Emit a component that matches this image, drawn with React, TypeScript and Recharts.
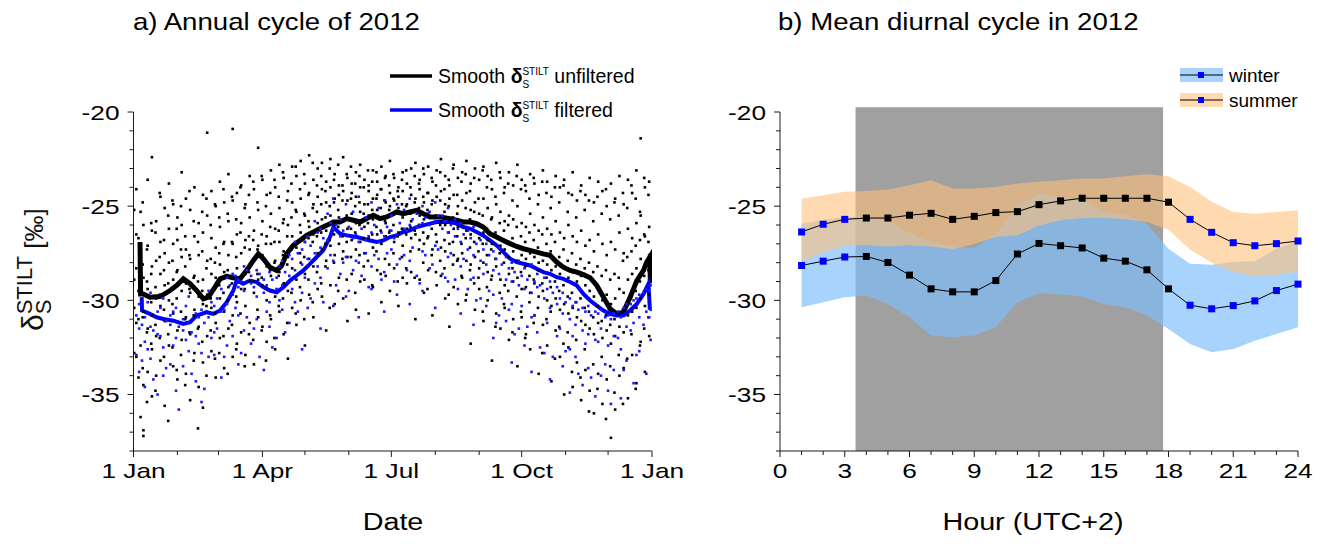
import React from 'react';
import { ComposedChart, Line, Scatter, Area, XAxis, YAxis, ReferenceArea } from 'recharts';

// ---------- Panel a) data ----------
const monthStartDays = [0, 31, 60, 91, 121, 152, 182, 213, 244, 274, 305, 335, 366];
const dateTickLabels: Record<number, string> = { 0: '1 Jan', 91: '1 Apr', 182: '1 Jul', 274: '1 Oct', 366: '1 Jan' };
const valueTicks = [-38, -37, -36, -35, -34, -33, -32, -31, -30, -29, -28, -27, -26, -25, -24, -23, -22, -21, -20];
const hourTicks = [0, 1, 2, 3, 4, 5, 6, 7, 8, 9, 10, 11, 12, 13, 14, 15, 16, 17, 18, 19, 20, 21, 22, 23, 24];

// unfiltered hourly values: [day, values...]
const unfilteredDots: number[][] = [
  [2, -24.1, -26.5, -28.3, -31.2, -33.0], [5, -25.3, -27.4, -29.0, -32.4, -36.2], [7, -26.0, -28.8, -30.6, -34.5, -37.2, -36.9],
  [10, -23.6, -27.1, -29.4, -31.5, -33.8], [13, -22.4, -26.3, -28.2, -30.8, -32.6, -35.1], [16, -25.8, -27.9, -29.9, -31.9, -34.0],
  [19, -24.5, -26.9, -28.6, -30.3, -33.2], [22, -25.1, -27.5, -29.2, -31.1, -35.6], [25, -23.8, -26.2, -28.0, -30.0, -32.4],
  [28, -24.9, -27.0, -28.9, -30.7, -33.5], [31, -25.6, -26.8, -28.4, -31.6, -34.2], [34, -23.2, -26.0, -27.7, -29.5, -32.1],
  [37, -24.6, -27.3, -29.1, -30.9, -33.9], [40, -25.2, -27.8, -29.6, -31.8, -35.3], [43, -24.0, -26.6, -28.7, -30.5, -32.8],
  [46, -25.9, -27.6, -29.8, -31.4, -34.6], [49, -24.4, -26.4, -28.9, -30.2, -33.3, -35.7], [52, -21.1, -25.5, -27.9, -29.7, -31.9],
  [55, -24.2, -26.7, -28.6, -30.4, -32.7], [58, -25.0, -27.2, -28.8, -31.2, -34.1], [61, -23.7, -26.1, -28.1, -29.9, -32.0],
  [64, -24.8, -26.9, -28.5, -30.6, -33.6], [67, -23.3, -25.8, -27.6, -29.3, -31.5], [70, -20.9, -24.7, -27.0, -28.8, -30.8, -33.0],
  [73, -24.3, -26.5, -28.3, -30.1, -32.3], [76, -23.9, -25.9, -27.5, -29.4, -31.7], [79, -24.9, -26.8, -28.6, -30.3, -32.9],
  [82, -23.4, -25.6, -27.3, -29.0, -31.2], [85, -24.1, -26.3, -27.8, -29.6, -33.4], [88, -21.9, -25.2, -27.1, -28.9, -30.9],
  [91, -23.6, -25.8, -27.6, -29.2, -31.4], [94, -24.4, -26.6, -28.2, -30.0, -32.2], [97, -23.1, -25.4, -27.0, -28.7, -31.0],
  [100, -24.0, -26.2, -27.9, -29.8, -32.6], [103, -22.8, -25.1, -26.9, -28.5, -30.6], [106, -23.5, -25.7, -27.4, -29.1, -31.8],
  [109, -24.2, -26.0, -27.7, -29.5, -33.1], [112, -22.9, -24.8, -26.6, -28.3, -30.4], [115, -23.4, -25.3, -27.2, -28.9, -31.3],
  [118, -22.6, -24.6, -26.4, -28.0, -30.0], [121, -23.8, -25.5, -26.9, -28.6, -32.4], [124, -22.3, -24.3, -26.1, -27.8, -29.7],
  [127, -23.6, -24.9, -26.5, -28.2, -30.9], [130, -23.0, -24.5, -25.9, -27.5, -29.4], [133, -22.7, -24.1, -25.7, -27.3, -29.8],
  [136, -23.7, -24.8, -26.3, -27.9, -31.6], [139, -22.5, -24.0, -25.5, -27.1, -29.2], [142, -23.3, -24.6, -26.0, -27.6, -30.2],
  [145, -23.9, -24.4, -25.6, -27.0, -28.8], [148, -22.4, -24.2, -25.8, -27.4, -29.9], [151, -23.5, -24.7, -26.2, -27.7, -31.1],
  [154, -23.8, -24.3, -25.4, -26.8, -28.6], [157, -23.2, -24.5, -25.9, -27.3, -30.5], [160, -22.8, -24.0, -25.3, -26.9, -29.0],
  [163, -23.6, -24.9, -26.1, -27.5, -28.9], [166, -23.9, -24.2, -25.5, -26.7, -30.7], [169, -23.1, -24.6, -25.7, -27.2, -29.3],
  [172, -23.7, -24.4, -25.2, -26.5, -28.4], [175, -22.9, -24.1, -25.6, -27.0, -30.1], [178, -23.4, -24.8, -25.9, -26.6, -28.7],
  [181, -22.6, -24.3, -25.0, -26.3, -29.5], [184, -23.5, -24.7, -25.4, -26.9, -28.3], [187, -24.0, -24.5, -25.1, -26.4, -30.3],
  [190, -23.2, -24.2, -25.6, -27.1, -28.8], [193, -23.8, -24.9, -25.3, -26.2, -29.1], [196, -23.0, -24.4, -25.8, -26.7, -28.5],
  [199, -22.7, -24.6, -25.2, -26.5, -31.0], [202, -23.6, -24.1, -25.5, -26.8, -28.9], [205, -23.3, -24.8, -25.7, -27.0, -29.6],
  [208, -22.9, -24.3, -25.4, -26.6, -28.4], [211, -23.7, -24.7, -25.9, -27.3, -30.8], [214, -23.1, -24.5, -25.6, -26.9, -29.2],
  [217, -22.5, -24.2, -25.8, -27.2, -28.7], [220, -23.4, -24.9, -26.0, -27.4, -29.9], [223, -23.9, -24.6, -25.7, -27.0, -31.4],
  [226, -22.8, -24.4, -26.2, -27.6, -29.3], [229, -23.5, -25.0, -26.1, -27.8, -30.2], [232, -23.2, -24.7, -25.9, -27.5, -28.8],
  [235, -22.6, -24.3, -26.3, -27.9, -29.7], [238, -23.8, -25.2, -26.5, -28.1, -32.3], [241, -23.0, -24.8, -26.0, -27.7, -30.5],
  [244, -23.6, -25.4, -26.7, -28.3, -29.4], [247, -22.9, -24.6, -26.4, -28.0, -31.1], [250, -23.4, -25.1, -26.8, -28.5, -30.0],
  [253, -24.1, -25.6, -27.0, -28.7, -33.2], [256, -22.7, -24.9, -26.6, -28.2, -30.7], [259, -23.5, -25.3, -27.1, -28.9, -31.5],
  [262, -24.0, -25.8, -27.3, -29.2, -30.4], [265, -23.2, -25.5, -26.9, -28.6, -32.1], [268, -23.9, -25.7, -27.4, -29.0, -31.0],
  [271, -22.8, -25.0, -27.2, -28.8, -33.5], [274, -23.6, -25.9, -27.6, -29.4, -30.9], [277, -24.2, -26.1, -27.8, -29.3, -31.8],
  [280, -23.3, -25.4, -27.5, -29.6, -32.6], [283, -23.8, -26.0, -27.7, -29.1, -30.8], [286, -24.4, -26.3, -28.0, -29.8, -33.9],
  [289, -23.1, -25.6, -27.9, -29.5, -31.3], [292, -23.7, -26.2, -28.1, -30.0, -32.4], [295, -24.5, -26.5, -28.4, -30.3, -34.3],
  [298, -23.4, -25.8, -28.2, -29.9, -31.6], [301, -24.0, -26.4, -28.6, -30.5, -33.0], [304, -23.6, -26.7, -28.3, -30.2, -35.0],
  [307, -24.3, -26.0, -28.8, -30.7, -32.5], [310, -23.2, -26.6, -28.5, -30.4, -34.6], [313, -24.7, -26.9, -29.0, -30.9, -33.3],
  [316, -23.9, -26.3, -28.7, -31.1, -35.3], [319, -24.4, -27.1, -29.2, -31.3, -33.7], [322, -23.5, -26.8, -29.5, -31.5, -34.8],
  [325, -24.8, -27.4, -29.8, -31.8, -36.0], [328, -23.7, -26.5, -29.3, -31.2, -33.9], [331, -24.2, -27.0, -30.0, -32.0, -35.5],
  [334, -25.0, -27.6, -29.7, -31.6, -34.2], [337, -23.8, -26.9, -30.2, -32.3, -37.3], [340, -24.6, -27.3, -29.9, -31.9, -35.8],
  [343, -23.4, -26.4, -29.4, -31.4, -34.0], [346, -24.9, -27.5, -29.6, -31.7, -33.6], [349, -23.6, -26.2, -28.9, -30.8, -35.2],
  [352, -24.3, -26.7, -28.6, -30.6, -32.9], [355, -23.1, -25.9, -28.3, -30.4, -34.4], [358, -21.4, -25.5, -27.8, -29.9, -32.2],
  [361, -24.0, -26.6, -28.1, -30.3, -33.8], [364, -23.7, -26.1, -27.6, -29.7, -31.9],
  [0.5, -25.2, -28.9, -30.4, -32.8], [3.5, -26.7, -29.5, -31.0, -34.1], [6.5, -24.8, -28.1, -30.9, -33.6], [9.5, -27.3, -29.0, -31.7, -35.4],
  [12.5, -25.9, -28.6, -30.1, -32.3], [15.5, -26.4, -29.3, -31.3, -34.8], [18.5, -24.3, -27.7, -29.7, -32.0], [21.5, -26.8, -28.4, -30.5, -33.0],
  [24.5, -25.5, -29.1, -31.8, -36.4], [27.5, -24.7, -27.9, -30.2, -32.5], [30.5, -26.2, -28.5, -29.9, -33.7], [33.5, -25.0, -27.3, -30.6, -32.9],
  [36.5, -26.6, -28.2, -31.0, -34.5], [39.5, -24.2, -27.6, -29.4, -31.7], [42.5, -25.8, -28.8, -30.8, -33.2], [45.5, -26.9, -29.0, -31.5, -36.8],
  [48.5, -25.3, -27.4, -29.5, -32.2], [51.5, -24.6, -28.3, -30.3, -34.0], [54.5, -26.0, -27.8, -29.9, -31.6], [57.5, -24.9, -28.0, -30.7, -33.1],
  [60.5, -25.6, -27.5, -29.2, -32.8], [63.5, -24.1, -27.0, -29.6, -31.9], [66.5, -25.4, -28.4, -30.0, -33.9], [69.5, -24.5, -26.9, -29.1, -31.3],
  [72.5, -25.7, -27.7, -29.8, -32.6], [75.5, -24.0, -26.4, -28.9, -30.7], [78.5, -25.1, -27.2, -29.4, -33.5], [81.5, -24.4, -26.6, -28.5, -31.8],
  [84.5, -23.7, -26.8, -29.0, -32.1], [87.5, -24.8, -27.3, -28.6, -30.5], [90.5, -23.4, -26.5, -28.8, -31.6], [93.5, -25.0, -27.0, -29.3, -33.2],
  [96.5, -24.3, -26.1, -28.4, -30.8], [99.5, -23.6, -26.9, -28.0, -32.0], [102.5, -24.5, -26.3, -28.7, -30.3], [105.5, -23.2, -25.9, -27.6, -29.9],
  [108.5, -24.7, -26.6, -28.1, -31.2], [111.5, -23.8, -25.6, -27.3, -29.6], [114.5, -22.9, -25.2, -27.0, -30.7], [117.5, -24.1, -26.0, -27.5, -29.3],
  [120.5, -23.3, -25.4, -27.7, -31.0], [123.5, -24.4, -25.8, -26.7, -28.9], [126.5, -22.7, -25.1, -26.9, -30.1], [129.5, -23.9, -25.3, -26.6, -28.5],
  [132.5, -23.4, -24.9, -26.4, -29.1], [135.5, -24.2, -25.6, -27.0, -28.2], [138.5, -23.0, -25.0, -26.8, -30.4], [141.5, -23.6, -24.8, -26.5, -28.0],
  [144.5, -22.8, -25.2, -26.1, -29.5], [147.5, -23.9, -24.7, -26.6, -27.8], [150.5, -23.3, -25.5, -26.9, -28.9], [153.5, -22.9, -24.6, -26.2, -27.7],
  [156.5, -23.8, -25.0, -26.4, -29.6], [159.5, -23.4, -24.8, -26.0, -27.6], [162.5, -24.0, -25.4, -26.7, -28.2], [165.5, -23.1, -24.9, -25.9, -27.9],
  [168.5, -23.7, -25.2, -26.5, -29.2], [171.5, -23.2, -24.6, -26.1, -27.4], [174.5, -24.1, -25.1, -26.3, -28.6], [177.5, -23.5, -24.7, -25.8, -27.8],
  [180.5, -23.9, -25.2, -26.4, -28.1], [183.5, -23.3, -24.6, -26.0, -27.5], [186.5, -24.2, -25.3, -26.6, -29.0], [189.5, -23.6, -24.9, -26.2, -27.7],
  [192.5, -23.1, -25.0, -26.5, -28.3], [195.5, -24.0, -25.4, -26.1, -27.4], [198.5, -23.4, -24.8, -26.3, -28.8], [201.5, -23.8, -25.1, -26.0, -27.3],
  [204.5, -23.0, -24.5, -26.4, -28.0], [207.5, -24.3, -25.2, -26.7, -29.4], [210.5, -23.5, -24.9, -26.2, -27.6], [213.5, -23.9, -25.5, -26.5, -28.5],
  [216.5, -23.2, -24.7, -26.0, -27.9], [219.5, -24.1, -25.3, -26.8, -28.3], [222.5, -23.6, -25.0, -26.4, -29.7], [225.5, -23.0, -25.6, -26.9, -28.1],
  [228.5, -24.4, -25.4, -26.6, -27.9], [231.5, -23.7, -25.8, -27.0, -28.7], [234.5, -23.3, -25.1, -26.7, -30.0], [237.5, -24.2, -25.7, -27.2, -28.4],
  [240.5, -23.5, -25.3, -26.9, -29.1], [243.5, -24.6, -26.0, -27.4, -28.8], [246.5, -23.1, -25.5, -27.0, -30.6], [249.5, -24.0, -26.2, -27.6, -29.3],
  [252.5, -23.6, -25.7, -27.3, -28.9], [255.5, -24.5, -26.4, -27.8, -31.4], [258.5, -23.2, -25.9, -27.5, -29.6], [261.5, -24.3, -26.3, -28.0, -30.2],
  [264.5, -23.8, -26.0, -27.7, -29.5], [267.5, -24.7, -26.7, -28.3, -31.7], [270.5, -23.4, -26.1, -27.9, -29.8], [273.5, -24.1, -26.6, -28.5, -30.6],
  [276.5, -23.9, -26.9, -28.2, -32.0], [279.5, -24.6, -26.4, -28.7, -30.1], [282.5, -23.5, -26.8, -28.9, -31.2], [285.5, -24.9, -27.2, -28.4, -30.4],
  [288.5, -23.7, -26.5, -29.1, -32.8], [291.5, -24.3, -27.0, -28.8, -31.0], [294.5, -25.1, -27.4, -29.3, -30.6], [297.5, -24.0, -26.9, -29.0, -33.1],
  [300.5, -24.8, -27.7, -29.5, -31.4], [303.5, -23.9, -27.3, -29.2, -32.3], [306.5, -25.3, -27.9, -29.8, -31.7], [309.5, -24.4, -27.5, -29.6, -33.8],
  [312.5, -25.6, -28.1, -30.1, -32.1], [315.5, -24.2, -27.8, -29.9, -34.1], [318.5, -25.2, -28.3, -30.4, -32.6], [321.5, -24.7, -28.0, -30.6, -35.9],
  [324.5, -25.8, -28.5, -30.9, -33.4], [327.5, -24.5, -28.2, -30.3, -34.7], [330.5, -25.4, -28.7, -31.1, -33.0], [333.5, -24.1, -28.4, -30.8, -36.3],
  [336.5, -25.7, -28.9, -31.3, -33.5], [339.5, -24.8, -28.6, -31.0, -34.9], [342.5, -25.5, -28.8, -30.7, -32.9], [345.5, -24.3, -27.9, -30.5, -35.5],
  [348.5, -25.1, -27.7, -30.2, -33.1], [351.5, -23.9, -27.4, -29.8, -31.8], [354.5, -24.6, -27.1, -29.5, -34.7], [357.5, -25.3, -26.8, -29.0, -32.4],
  [360.5, -23.5, -26.5, -28.7, -31.5], [363.5, -24.4, -26.9, -28.4, -30.9],
];

// filtered hourly values: [day, values...]
const filteredDots: number[][] = [
  [4, -30.2, -31.5, -33.8], [8, -30.9, -32.2, -34.6], [12, -29.6, -31.4, -33.1], [17, -30.6, -31.8, -35.0],
  [21, -29.9, -32.5, -34.0], [26, -30.8, -31.3, -33.4], [30, -30.4, -32.0, -34.8], [35, -31.0, -31.6, -33.5],
  [39, -29.8, -31.2, -32.7], [44, -30.7, -31.9, -34.3], [48, -30.5, -32.8, -35.4], [53, -29.5, -30.9, -33.0],
  [57, -30.3, -31.7, -32.9], [62, -29.4, -30.6, -34.1], [66, -28.8, -30.2, -32.4], [70, -28.6, -29.7, -31.9],
  [74, -28.9, -29.3, -30.8, -33.4], [78, -28.2, -29.5, -31.6], [83, -28.7, -29.1, -32.3], [87, -28.4, -29.8, -31.0],
  [92, -28.9, -29.6, -33.7], [96, -28.5, -30.1, -31.4], [101, -28.8, -29.4, -32.0], [105, -27.9, -29.2, -30.5],
  [110, -27.6, -28.7, -31.2], [114, -26.9, -28.4, -30.1], [119, -27.3, -28.1, -29.6, -32.6], [123, -26.6, -27.8, -30.4],
  [128, -25.8, -27.5, -29.1], [132, -26.2, -27.2, -28.8, -31.5], [137, -25.4, -26.8, -28.3], [141, -24.6, -26.2, -27.9, -30.3],
  [146, -25.7, -26.6, -28.6], [150, -24.9, -26.5, -27.7, -29.8], [155, -25.3, -26.7, -28.4], [159, -24.5, -26.9, -28.0, -30.9],
  [164, -25.6, -26.8, -27.5], [168, -24.8, -26.4, -28.2, -29.4], [173, -25.1, -26.9, -27.8], [177, -24.7, -26.6, -28.5, -30.6],
  [182, -25.5, -26.3, -27.3], [186, -24.9, -26.5, -28.1, -29.7], [191, -25.2, -26.2, -27.6], [195, -24.6, -26.0, -27.9, -30.2],
  [200, -25.4, -26.1, -28.7], [204, -25.0, -25.9, -27.4, -29.5], [209, -25.3, -26.0, -28.3], [213, -24.8, -25.8, -27.1, -30.4],
  [218, -25.5, -26.2, -28.6], [222, -25.1, -26.4, -27.7, -29.0], [227, -25.7, -26.6, -28.9], [231, -25.9, -26.9, -28.2, -30.7],
  [236, -26.3, -27.3, -29.4], [240, -26.1, -27.6, -28.8, -31.3], [245, -26.8, -27.9, -29.9], [249, -27.0, -28.1, -30.3],
  [254, -27.4, -28.4, -29.7, -32.0], [258, -27.2, -28.6, -30.8], [263, -27.7, -28.9, -31.1], [267, -28.0, -29.0, -30.2, -33.3],
  [272, -27.9, -29.2, -31.5], [276, -28.3, -29.4, -32.4], [281, -28.1, -29.6, -30.9, -33.8], [285, -28.6, -29.3, -31.7],
  [290, -28.8, -29.9, -32.8], [294, -29.0, -30.4, -34.2], [299, -29.3, -30.2, -31.9], [303, -29.6, -30.7, -33.5],
  [308, -29.9, -31.0, -32.6, -34.9], [312, -30.1, -31.3, -33.0], [317, -30.4, -31.6, -34.5], [321, -30.3, -31.8, -33.6],
  [326, -30.6, -32.1, -35.1], [330, -30.5, -31.5, -34.0], [335, -30.8, -32.4, -34.8], [339, -30.7, -31.9, -33.7],
  [344, -30.9, -32.6, -35.2], [348, -30.2, -31.4, -33.2], [353, -30.0, -31.2, -34.4], [357, -29.7, -30.9, -32.7],
  [362, -29.4, -30.6, -33.9], [365, -29.2, -30.5, -32.1],
  [2, -30.8, -32.9], [6, -31.3, -33.2], [10, -30.1, -32.6], [14, -31.6, -34.2], [19, -30.4, -31.9], [23, -31.1, -33.6],
  [28, -30.6, -32.4], [32, -31.4, -35.8], [37, -30.3, -32.1], [41, -31.7, -33.9], [46, -30.9, -32.3], [50, -31.2, -34.7],
  [55, -30.1, -32.0], [59, -29.9, -31.5], [64, -30.5, -33.0], [68, -29.2, -31.1], [72, -28.7, -30.4], [76, -29.0, -32.8],
  [80, -28.4, -30.9], [85, -29.3, -31.5], [89, -28.6, -33.0], [94, -29.2, -30.6], [98, -28.9, -32.5], [103, -28.2, -30.0],
  [107, -28.5, -31.7], [112, -27.8, -29.4], [116, -27.5, -30.6], [121, -26.9, -28.8], [125, -27.1, -29.9], [130, -26.4, -28.2],
  [134, -26.7, -30.1], [139, -25.9, -27.6], [143, -26.0, -29.2], [148, -26.3, -28.0], [152, -26.1, -29.5], [157, -26.5, -27.9],
  [161, -26.2, -28.7], [166, -26.6, -29.3], [170, -26.0, -27.6], [175, -26.4, -28.9], [179, -26.1, -27.5], [184, -26.7, -29.0],
  [188, -25.9, -27.8], [193, -26.3, -28.4], [197, -25.7, -27.2], [202, -26.0, -29.1], [206, -25.6, -27.6], [211, -25.9, -28.1],
  [215, -25.5, -27.3], [220, -25.8, -28.8], [224, -26.0, -27.5], [229, -26.2, -29.4], [233, -26.5, -27.8], [238, -26.7, -28.9],
  [242, -27.0, -30.0], [247, -27.3, -28.6], [251, -27.6, -29.5], [256, -27.8, -31.2], [260, -28.1, -29.9], [265, -28.3, -30.5],
  [269, -28.5, -31.8], [274, -28.7, -30.3], [278, -28.9, -31.4], [283, -29.0, -30.8], [287, -29.2, -32.5], [292, -29.4, -31.2],
  [296, -29.6, -33.0], [301, -29.9, -31.5], [305, -30.1, -32.7], [310, -30.3, -31.9], [314, -30.5, -33.9], [319, -30.6, -32.3],
  [323, -30.8, -34.1], [328, -30.7, -32.2], [333, -30.9, -33.4], [337, -31.0, -35.5], [342, -30.6, -32.0], [346, -30.4, -33.7],
  [351, -30.2, -31.6], [355, -29.9, -32.9], [360, -29.6, -31.3], [364, -29.5, -30.9],
];

// smoothed curves: [day, value]
const smoothUnfiltered: number[][] = [
  [4.6, -26.9], [5.0, -29.66], [6.9, -29.66], [11.6, -29.83], [18.7, -29.8], [25.8, -29.48], [30.5, -29.21], [35.2, -28.86],
  [39.9, -29.12], [44.6, -29.48], [49.3, -29.92], [52.8, -29.83], [57.5, -29.3], [61.1, -28.86], [65.8, -28.73], [70.5, -28.8],
  [75.2, -28.86], [79.9, -28.41], [84.6, -27.88], [88.1, -27.53], [91.6, -27.79], [96.3, -28.24], [101.1, -28.41], [104.6, -28.15],
  [108.1, -27.53], [112.8, -27.08], [117.5, -26.82], [122.2, -26.55], [127.0, -26.37], [131.7, -26.19], [136.4, -26.02],
  [141.1, -25.84], [145.8, -25.84], [150.5, -25.66], [155.2, -25.75], [159.9, -25.84], [164.6, -25.66], [169.3, -25.48],
  [174.0, -25.66], [178.7, -25.57], [183.4, -25.4], [185.7, -25.31], [190.4, -25.4], [195.2, -25.31], [199.9, -25.22],
  [204.6, -25.4], [209.3, -25.57], [216.3, -25.57], [223.4, -25.66], [228.1, -25.75], [232.8, -25.84], [237.5, -25.84],
  [242.2, -25.93], [246.9, -26.11], [251.6, -26.46], [256.3, -26.64], [261.1, -26.82], [265.8, -26.99], [270.5, -27.14],
  [275.2, -27.26], [279.9, -27.35], [284.6, -27.44], [289.3, -27.53], [294.0, -27.61], [298.7, -27.97], [303.4, -28.24],
  [308.2, -28.41], [312.9, -28.5], [317.6, -28.63], [322.3, -28.8], [327.0, -29.21], [331.7, -29.83], [336.4, -30.45],
  [341.1, -30.72], [345.8, -30.63], [350.6, -29.83], [355.3, -28.95], [360.0, -28.41], [362.3, -27.97], [364.5, -27.7], [364.8, -29.1],
];

const smoothFiltered: number[][] = [
  [5.8, -29.83], [6.0, -30.54], [11.6, -30.72], [16.3, -30.9], [21.1, -30.99], [28.1, -31.08], [35.2, -31.25], [39.9, -31.16],
  [44.6, -30.81], [51.7, -30.63], [56.4, -30.72], [61.1, -30.54], [65.8, -30.1], [70.5, -29.48], [72.8, -28.95], [77.5, -29.12],
  [82.2, -28.95], [86.9, -29.03], [91.6, -29.3], [96.3, -29.48], [101.1, -29.57], [105.8, -29.3], [110.5, -28.95], [115.2, -28.68],
  [119.9, -28.41], [124.6, -28.06], [129.3, -27.7], [134.0, -27.35], [138.7, -26.64], [141.1, -26.11], [145.8, -26.46],
  [150.5, -26.55], [157.6, -26.64], [162.3, -26.73], [167.0, -26.82], [171.7, -26.9], [176.4, -26.82], [181.1, -26.64],
  [185.7, -26.55], [190.4, -26.37], [195.2, -26.28], [199.9, -26.11], [204.6, -26.02], [209.3, -25.93], [214.0, -25.84],
  [218.7, -25.84], [223.4, -25.84], [228.1, -25.93], [232.8, -26.11], [237.5, -26.19], [242.2, -26.37], [246.9, -26.55],
  [251.6, -26.82], [256.3, -27.08], [261.1, -27.44], [265.8, -27.79], [270.5, -27.97], [275.2, -28.06], [279.9, -28.15],
  [284.6, -28.32], [289.3, -28.5], [294.0, -28.59], [298.7, -28.77], [303.4, -28.86], [308.2, -29.03], [312.9, -29.21],
  [317.6, -29.66], [322.3, -30.01], [327.0, -30.28], [331.7, -30.54], [336.4, -30.72], [341.1, -30.81], [345.8, -30.81],
  [350.6, -30.54], [355.3, -30.19], [360.0, -29.66], [363.5, -29.12], [364.5, -30.5],
];

// ---------- Panel b) data ----------
const hours = [1, 2, 3, 4, 5, 6, 7, 8, 9, 10, 11, 12, 13, 14, 15, 16, 17, 18, 19, 20, 21, 22, 23, 24];
const summerMean = [-26.37, -25.96, -25.70, -25.63, -25.63, -25.48, -25.38, -25.70, -25.54, -25.34, -25.29, -24.92, -24.72, -24.58, -24.58, -24.58, -24.58, -24.79, -25.70, -26.39, -26.94, -27.10, -26.99, -26.85];
const summerHigh = [-24.60, -24.42, -24.24, -24.19, -24.12, -23.89, -23.62, -24.06, -24.06, -23.98, -23.80, -23.71, -23.62, -23.53, -23.53, -23.41, -23.30, -23.41, -23.98, -24.77, -25.31, -25.40, -25.31, -25.22];
const summerLow = [-27.97, -27.44, -27.12, -27.06, -27.14, -27.08, -27.14, -27.28, -27.01, -26.64, -26.55, -26.02, -25.75, -25.63, -25.61, -25.70, -25.84, -26.25, -27.31, -28.00, -28.50, -28.73, -28.64, -28.47];
const winterMean = [-28.15, -27.92, -27.70, -27.67, -27.99, -28.66, -29.39, -29.55, -29.55, -28.95, -27.54, -26.98, -27.10, -27.22, -27.76, -27.92, -28.38, -29.39, -30.26, -30.45, -30.28, -30.03, -29.48, -29.14];
const winterHigh = [-25.93, -25.73, -25.57, -25.59, -25.79, -26.42, -26.90, -27.13, -27.22, -26.46, -24.99, -24.33, -24.51, -24.65, -25.32, -25.47, -25.95, -27.26, -28.06, -28.11, -27.97, -27.92, -27.26, -26.85];
const winterLow = [-30.37, -30.10, -29.83, -29.74, -30.19, -30.90, -31.87, -31.96, -31.87, -31.43, -30.10, -29.62, -29.69, -29.80, -30.19, -30.37, -30.81, -31.52, -32.32, -32.76, -32.58, -32.14, -31.79, -31.43];
const daytimeStart = 3.5;
const daytimeEnd = 17.75;

// ---------- derived tables ----------
const flattenDots = (rows: number[][]) =>
  rows.flatMap((r) => r.slice(1).map((v) => ({ d: r[0], v })));
const toPoints = (rows: number[][]) => rows.map((r) => ({ d: r[0], v: r[1] }));

const unfilteredData = flattenDots(unfilteredDots);
const filteredData = flattenDots(filteredDots);
const smoothUnfData = toPoints(smoothUnfiltered);
const smoothFilData = toPoints(smoothFiltered);

const diurnalData = hours.map((h, i) => ({
  h,
  summer: summerMean[i],
  winter: winterMean[i],
  summerBand: [summerLow[i], summerHigh[i]],
  winterBand: [winterLow[i], winterHigh[i]],
}));

// ---------- styling ----------
const FONT = "'Liberation Sans', Arial, Helvetica, sans-serif";
const AXIS = '#1a1a1a';
const BLUE = '#0000ff';
const WINTER_FILL = 'rgb(126,189,252)';
const WINTER_OP = 0.67;
const SUMMER_FILL = 'rgb(255,192,121)';
const SUMMER_OP = 0.59;
const SX = 1.25;

const DateTick = (props: any) => {
  const { x, y, payload } = props;
  const label = dateTickLabels[payload.value];
  return (
    <g>
      <line x1={x} x2={x} y1={y} y2={y + (label ? 6 : 4)} stroke={AXIS} strokeWidth={1} />
      {label && (
        <text transform={`translate(${x},${y + 27}) scale(${SX},1)`} textAnchor="middle" fontSize={21} fill="#000" fontFamily={FONT}>
          {label}
        </text>
      )}
    </g>
  );
};

const HourTick = (props: any) => {
  const { x, y, payload } = props;
  const major = payload.value % 3 === 0;
  return (
    <g>
      <line x1={x} x2={x} y1={y} y2={y + (major ? 6 : 4)} stroke={AXIS} strokeWidth={1} />
      {major && (
        <text transform={`translate(${x},${y + 27}) scale(${SX},1)`} textAnchor="middle" fontSize={21} fill="#000" fontFamily={FONT}>
          {payload.value}
        </text>
      )}
    </g>
  );
};

const ValueTick = (props: any) => {
  const { x, y, payload } = props;
  const major = payload.value % 5 === 0;
  return (
    <g>
      <line x1={x - (major ? 6 : 4)} x2={x} y1={y} y2={y} stroke={AXIS} strokeWidth={1} />
      {major && (
        <text transform={`translate(${x - 14},${y + 7.5}) scale(${SX},1)`} textAnchor="end" fontSize={21} fill="#000" fontFamily={FONT}>
          {payload.value}
        </text>
      )}
    </g>
  );
};

const BlackDot = (p: any) => <rect x={p.cx - 1.3} y={p.cy - 1.3} width={2.6} height={2.6} fill="#000" />;
const BlueDot = (p: any) => <rect x={p.cx - 1.3} y={p.cy - 1.3} width={2.6} height={2.6} fill="#1a1aff" />;

const HourMarker = (p: any) => {
  const { cx, cy, payload, index } = p;
  const isDay = payload.h > daytimeStart && payload.h < daytimeEnd + 0.5;
  return <rect key={`m-${index}`} x={cx - 3.5} y={cy - 3.5} width={7} height={7} fill={isDay ? '#000' : BLUE} />;
};

const axisLine = { stroke: AXIS, strokeWidth: 1 };

export default function App() {
  return (
    <div style={{ position: 'fixed', left: 0, top: 0, width: 1326, height: 544, background: '#fff', fontFamily: FONT, overflow: 'hidden' }}>
      {/* Panel a */}
      <div style={{ position: 'absolute', left: 0, top: 0 }}>
        <ComposedChart width={710} height={544} margin={{ top: 112, left: 73.5, right: 58, bottom: 53 }}>
          <XAxis
            type="number"
            dataKey="d"
            domain={[0, 366]}
            ticks={monthStartDays}
            interval={0}
            height={40}
            tickSize={0}
            tickMargin={0}
            tickLine={false}
            axisLine={axisLine}
            tick={<DateTick />}
            allowDataOverflow
          />
          <YAxis
            type="number"
            domain={[-38, -20]}
            ticks={valueTicks}
            interval={0}
            width={60}
            tickSize={0}
            tickMargin={0}
            tickLine={false}
            axisLine={axisLine}
            tick={<ValueTick />}
            allowDataOverflow
          />
          <Scatter data={unfilteredData} dataKey="v" shape={BlackDot} isAnimationActive={false} />
          <Scatter data={filteredData} dataKey="v" shape={BlueDot} isAnimationActive={false} />
          <Line data={smoothUnfData} dataKey="v" type="linear" stroke="#000" strokeWidth={5} dot={false} isAnimationActive={false} />
          <Line data={smoothFilData} dataKey="v" type="linear" stroke={BLUE} strokeWidth={4} dot={false} isAnimationActive={false} />
        </ComposedChart>
      </div>

      {/* Panel b */}
      <div style={{ position: 'absolute', left: 680, top: 0 }}>
        <ComposedChart width={646} height={544} data={diurnalData} margin={{ top: 112, left: 40, right: 28, bottom: 53 }}>
          <XAxis
            type="number"
            dataKey="h"
            domain={[0, 24]}
            ticks={hourTicks}
            interval={0}
            height={40}
            tickSize={0}
            tickMargin={0}
            tickLine={false}
            axisLine={axisLine}
            tick={<HourTick />}
          />
          <YAxis
            type="number"
            domain={[-38, -20]}
            ticks={valueTicks}
            interval={0}
            width={60}
            tickSize={0}
            tickMargin={0}
            tickLine={false}
            axisLine={axisLine}
            tick={<ValueTick />}
            allowDataOverflow
          />
          <ReferenceArea x1={daytimeStart} x2={daytimeEnd} y1={-38} y2={-19.75} ifOverflow="visible" fill="#a0a0a0" fillOpacity={1} stroke="none" />
          <Area dataKey="winterBand" type="linear" stroke="none" fill={WINTER_FILL} fillOpacity={WINTER_OP} isAnimationActive={false} />
          <Area dataKey="summerBand" type="linear" stroke="none" fill={SUMMER_FILL} fillOpacity={SUMMER_OP} isAnimationActive={false} />
          <Line dataKey="winter" type="linear" stroke="#000" strokeWidth={1} dot={HourMarker} isAnimationActive={false} />
          <Line dataKey="summer" type="linear" stroke="#000" strokeWidth={1} dot={HourMarker} isAnimationActive={false} />
        </ComposedChart>
      </div>

      {/* Text & legends overlay */}
      <svg width={1326} height={544} style={{ position: 'absolute', left: 0, top: 0, pointerEvents: 'none' }} fontFamily={FONT}>
        <text transform={`translate(133,30) scale(1.15,1)`} fontSize={24} fill="#000">a) Annual cycle of 2012</text>
        <text transform={`translate(778,30) scale(1.15,1)`} fontSize={24} fill="#000">b) Mean diurnal cycle in 2012</text>

        <text transform={`translate(393,530) scale(${SX},1)`} fontSize={23} textAnchor="middle" fill="#000">Date</text>
        <text transform={`translate(1033,530) scale(${SX},1)`} fontSize={23} textAnchor="middle" fill="#000">Hour (UTC+2)</text>

        {/* y-axis label */}
        <text transform="translate(43,331) rotate(-90)" fill="#111">
          <tspan fontSize={30}>δ</tspan>
          <tspan fontSize={22} dy={8}>S</tspan>
          <tspan fontSize={22} dx={-14.7} dy={-19}>STILT</tspan>
          <tspan fontSize={26} dy={11}> [‰]</tspan>
        </text>

        {/* legend a */}
        <line x1={390} x2={432} y1={76} y2={76} stroke="#000" strokeWidth={3.5} />
        <text x={438} y={83} fontSize={19.5} fill="#000">
          Smooth <tspan fontWeight="bold">δ</tspan>
          <tspan fontSize={10} dy={5}>S</tspan>
          <tspan fontSize={10} dx={-6.7} dy={-13}>STILT</tspan>
          <tspan fontSize={19.5} dy={8}> unfiltered</tspan>
        </text>
        <line x1={390} x2={432} y1={110} y2={110} stroke={BLUE} strokeWidth={3.5} />
        <text x={438} y={117} fontSize={19.5} fill="#000">
          Smooth <tspan fontWeight="bold">δ</tspan>
          <tspan fontSize={10} dy={5}>S</tspan>
          <tspan fontSize={10} dx={-6.7} dy={-13}>STILT</tspan>
          <tspan fontSize={19.5} dy={8}> filtered</tspan>
        </text>

        {/* legend b */}
        <rect x={1180} y={68} width={43} height={14} fill={WINTER_FILL} fillOpacity={WINTER_OP} />
        <line x1={1180} x2={1223} y1={75} y2={75} stroke="#000" strokeWidth={1} />
        <rect x={1198} y={72} width={6} height={6} fill={BLUE} />
        <text x={1229} y={82} fontSize={19} fill="#000">winter</text>
        <rect x={1180} y={93} width={43} height={14} fill={SUMMER_FILL} fillOpacity={SUMMER_OP} />
        <line x1={1180} x2={1223} y1={100} y2={100} stroke="#000" strokeWidth={1} />
        <rect x={1198} y={97} width={6} height={6} fill={BLUE} />
        <text x={1229} y={107} fontSize={19} fill="#000">summer</text>
      </svg>
    </div>
  );
}
